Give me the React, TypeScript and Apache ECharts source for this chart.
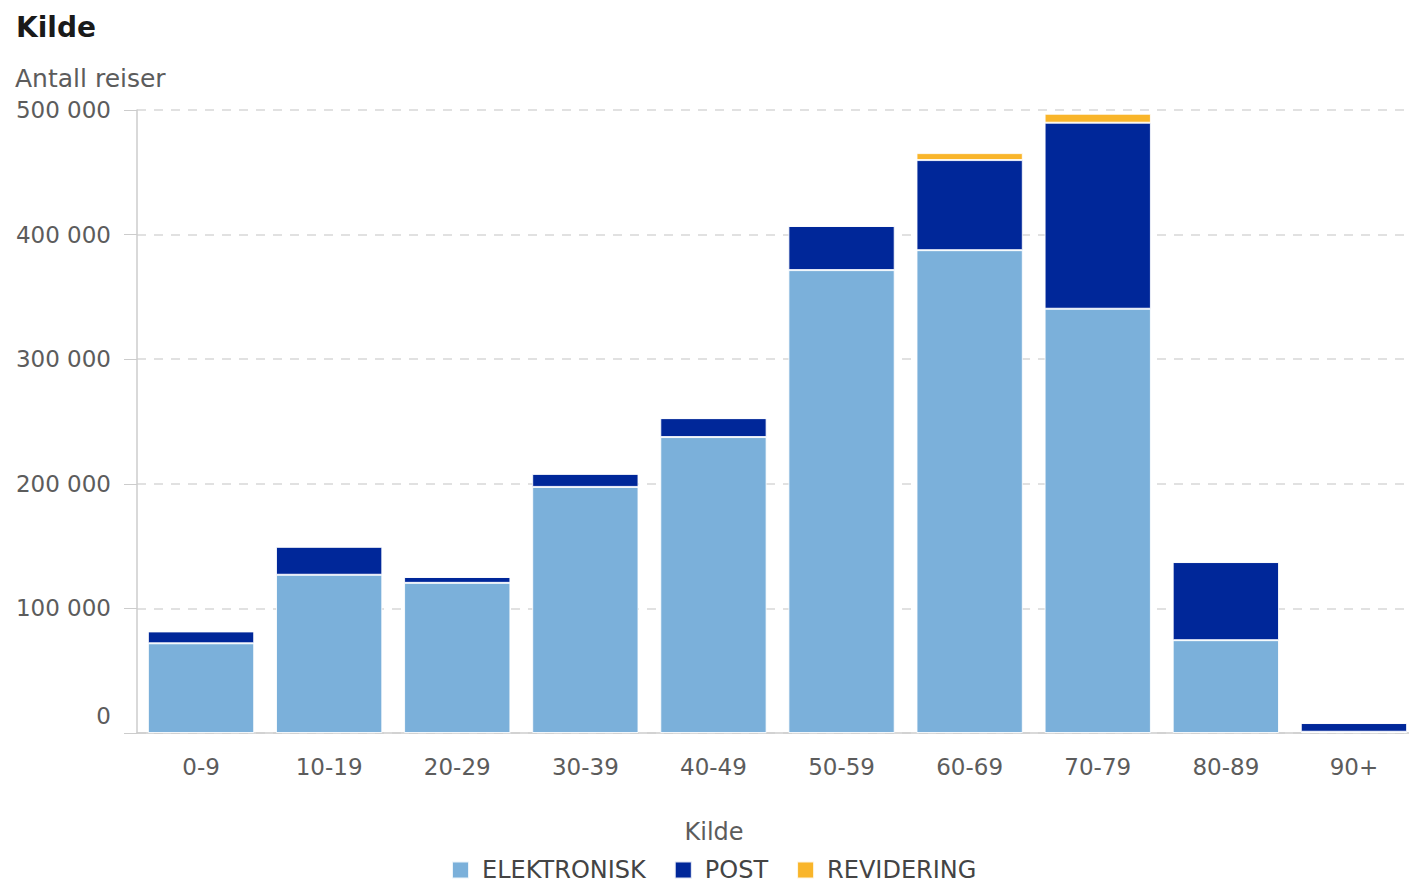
import React, { useEffect, useRef } from "react";
import * as echarts from "echarts";

const categories = ["0-9", "10-19", "20-29", "30-39", "40-49", "50-59", "60-69", "70-79", "80-89", "90+"];
const elektronisk = [72000, 127000, 120500, 197500, 237500, 371500, 387500, 340500, 74500, 1000];
const post = [9500, 22500, 4700, 10500, 15200, 35400, 72300, 149300, 62700, 7000];
const revidering = [0, 0, 0, 0, 0, 0, 5600, 7200, 0, 0];
const yTicks = [0, 100000, 200000, 300000, 400000, 500000];

const FONT = "'DejaVu Sans', sans-serif";
const TXT = "#5c5c5c";

function fmt(v: number): string {
  return String(v).replace(/\B(?=(\d{3})+(?!\d))/g, " ");
}

export default function App() {
  const ref = useRef<HTMLDivElement>(null);
  useEffect(() => {
    document.body.style.margin = "0";
    document.body.style.overflow = "hidden";
    document.documentElement.style.overflow = "hidden";
    if (!ref.current) return;
    const chart = echarts.init(ref.current, undefined, { renderer: "svg" });
    const barStyle = { borderColor: "rgba(255,255,255,0.85)", borderWidth: 1 };
    chart.setOption({
      animation: false,
      textStyle: { fontFamily: FONT },
      graphic: [
        {
          type: "text",
          x: 16,
          y: 27,
          style: { text: "Kilde", font: `bold 28px ${FONT}`, fill: "#1a1a1a", verticalAlign: "middle" },
        },
        {
          type: "text",
          x: 15,
          y: 78,
          style: { text: "Antall reiser", font: `25px ${FONT}`, fill: TXT, verticalAlign: "middle" },
        },
        {
          type: "text",
          x: 714,
          y: 832,
          style: { text: "Kilde", font: `24px ${FONT}`, fill: TXT, align: "center", verticalAlign: "middle" },
        },
      ],
      legend: {
        left: 451,
        top: 858,
        padding: 0,
        icon: "rect",
        itemWidth: 17,
        itemHeight: 17,
        itemGap: 28,
        textStyle: { fontFamily: FONT, fontSize: 24, color: "#444", padding: [0, 0, 0, 8] },
        data: ["ELEKTRONISK", "POST", "REVIDERING"],
      },
      grid: { left: 137, right: 0, top: 110, bottom: 150, containLabel: false },
      xAxis: {
        type: "category",
        data: categories,
        axisLine: { lineStyle: { color: "#ccc", width: 1.5 } },
        axisTick: { alignWithLabel: true, length: 8, lineStyle: { color: "#ccc" } },
        axisLabel: { fontSize: 23, color: TXT, margin: 22, fontFamily: FONT },
      },
      yAxis: {
        type: "value",
        min: 0,
        max: 500000,
        interval: 100000,
        axisLine: { show: true, lineStyle: { color: "#ccc", width: 1.5 } },
        axisTick: { show: true, length: 13, lineStyle: { color: "#ccc" } },
        axisLabel: {
          fontSize: 23,
          color: TXT,
          margin: 26,
          fontFamily: FONT,
          formatter: (v: number) => (v === yTicks[0] ? "{z|0}" : fmt(v)),
          rich: { z: { fontSize: 23, color: TXT, fontFamily: FONT, padding: [0, 0, 34, 0] } },
        },
        splitLine: { show: true, lineStyle: { color: "#d8d8d8", type: [9, 8], width: 1.5 } },
      },
      series: [
        {
          name: "ELEKTRONISK",
          type: "bar",
          stack: "s",
          data: elektronisk,
          barCategoryGap: "17%",
          itemStyle: { color: "#7BB0DA", ...barStyle },
        },
        {
          name: "POST",
          type: "bar",
          stack: "s",
          data: post,
          itemStyle: { color: "#002799", ...barStyle },
        },
        {
          name: "REVIDERING",
          type: "bar",
          stack: "s",
          data: revidering,
          itemStyle: { color: "#F9B52A", ...barStyle },
        },
      ],
    });
    return () => chart.dispose();
  }, []);
  return <div ref={ref} style={{ width: 1418, height: 883 }} />;
}
